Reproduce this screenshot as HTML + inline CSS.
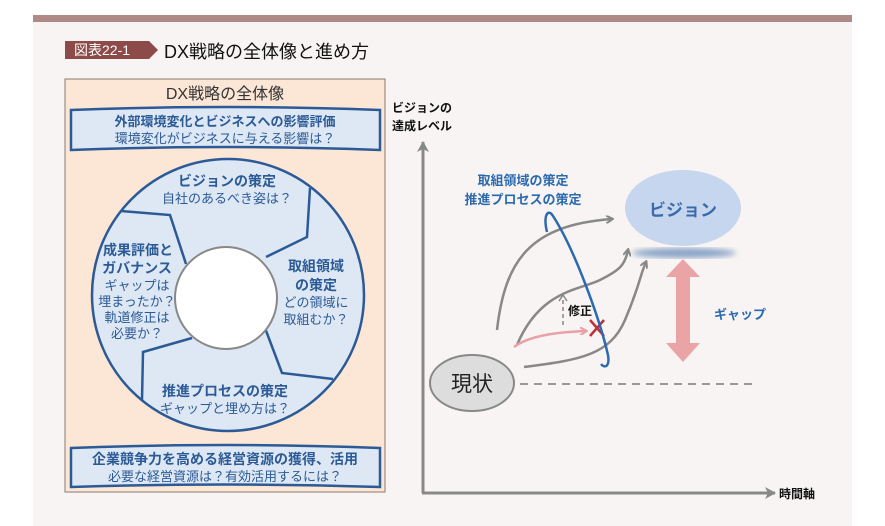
<!DOCTYPE html>
<html><head><meta charset="utf-8"><style>
body{margin:0;width:885px;height:526px;background:#fff;overflow:hidden;font-family:"Liberation Sans","Noto Sans CJK JP",sans-serif;}
</style></head><body>
<svg width="885" height="526" xmlns="http://www.w3.org/2000/svg" style="position:absolute;left:0;top:0;font-family:'Liberation Sans','Noto Sans CJK JP',sans-serif">
<defs>
<marker id="ag" markerWidth="8" markerHeight="8" refX="6" refY="4" orient="auto" markerUnits="userSpaceOnUse"><path d="M0,0 L7,4 L0,8" fill="none" stroke="#888" stroke-width="2"/></marker>
<marker id="ap" markerWidth="8" markerHeight="8" refX="6" refY="4" orient="auto" markerUnits="userSpaceOnUse"><path d="M0,0 L7,4 L0,8" fill="none" stroke="#eaa0a8" stroke-width="2"/></marker>
<marker id="ax" markerWidth="12" markerHeight="12" refX="10" refY="6" orient="auto" markerUnits="userSpaceOnUse"><path d="M0,0 L11,6 L0,12 L3,6z" fill="#888"/></marker>
<filter id="bl"><feGaussianBlur stdDeviation="3"/></filter>
</defs>
<rect x="33" y="22" width="819" height="504" fill="#f8f4f3"/>
<rect x="33" y="15" width="819" height="7" fill="#b08a84"/>
<path d="M65,41 H149 L158,50 L149,59 H65z" fill="#8c4a48"/>
<text x="74" y="55" font-size="14" fill="#fff">図表22-1</text>
<text x="164" y="58" font-size="18" fill="#111">DX戦略の全体像と進め方</text>
<!-- left panel -->
<rect x="65" y="79" width="320" height="413" fill="#fce6d6" stroke="#8a7a70" stroke-width="1"/>
<text x="225" y="99" font-size="16" fill="#333" text-anchor="middle">DX戦略の全体像</text>
<path d="M71,110 Q225,104 380,110 V150 Q225,144 71,150z" fill="#dde8f4" stroke="#2c5a96" stroke-width="2.5"/>
<text x="225" y="126" font-size="13" font-weight="bold" fill="#2c5a96" text-anchor="middle">外部環境変化とビジネスへの影響評価</text>
<text x="225" y="143" font-size="13" fill="#2c5a96" text-anchor="middle">環境変化がビジネスに与える影響は？</text>
<circle cx="228" cy="295" r="136" fill="#dde8f4" stroke="#2c5a96" stroke-width="2.5"/>
<g fill="none" stroke="#2c5a96" stroke-width="2.5">
<polyline points="266,257 307,237 310,188"/>
<polyline points="186,264 170,215 121,211"/>
<polyline points="192,338 143,352 142,400"/>
<polyline points="265,328 282,373 333,379"/>
</g>
<circle cx="226" cy="298" r="51" fill="#fff" stroke="#888" stroke-width="2"/>
<g fill="#2c5a96" text-anchor="middle" font-size="13">
<text x="227" y="186" font-weight="bold" font-size="14">ビジョンの策定</text>
<text x="227" y="203">自社のあるべき姿は？</text>
<text x="138" y="255" font-weight="bold" font-size="14">成果評価と</text>
<text x="137" y="273" font-weight="bold" font-size="14">ガバナンス</text>
<text x="137" y="290">ギャップは</text>
<text x="137" y="306">埋まったか？</text>
<text x="137" y="322">軌道修正は</text>
<text x="137" y="338">必要か？</text>
<text x="316" y="271" font-weight="bold" font-size="14">取組領域</text>
<text x="316" y="290" font-weight="bold" font-size="14">の策定</text>
<text x="316" y="307">どの領域に</text>
<text x="316" y="324">取組むか？</text>
<text x="225" y="396" font-weight="bold" font-size="14">推進プロセスの策定</text>
<text x="225" y="413">ギャップと埋め方は？</text>
</g>
<path d="M71,448 Q225,442 380,448 V487 Q225,482 71,487z" fill="#dde8f4" stroke="#2c5a96" stroke-width="2.5"/>
<text x="225" y="464" font-size="14" font-weight="bold" fill="#2c5a96" text-anchor="middle">企業競争力を高める経営資源の獲得、活用</text>
<text x="225" y="481" font-size="13" fill="#2c5a96" text-anchor="middle">必要な経営資源は？有効活用するには？</text>
<!-- right chart -->
<text x="392" y="112" font-size="12" font-weight="bold" fill="#111">ビジョンの</text>
<text x="392" y="130" font-size="12" font-weight="bold" fill="#111">達成レベル</text>
<line x1="423" y1="493" x2="423" y2="142" stroke="#888" stroke-width="3" marker-end="url(#ax)"/>
<line x1="422" y1="493" x2="775" y2="493" stroke="#888" stroke-width="3" marker-end="url(#ax)"/>
<text x="779" y="498" font-size="12" font-weight="bold" fill="#111">時間軸</text>
<ellipse cx="684" cy="253" rx="52" ry="5" fill="#8aa4c8" filter="url(#bl)"/>
<ellipse cx="683" cy="208" rx="58" ry="38" fill="#c6d6ee"/>
<text x="683" y="216" font-size="17" font-weight="bold" fill="#3a6aa8" text-anchor="middle">ビジョン</text>
<path d="M683,259 L700,277 H690 V343 H700 L683,362 L666,343 H676 V277 H666z" fill="#eaa4a6"/>
<text x="714" y="319" font-size="13" font-weight="bold" fill="#2c6ab0">ギャップ</text>
<line x1="520" y1="384" x2="755" y2="384" stroke="#999" stroke-width="2" stroke-dasharray="8,6"/>
<ellipse cx="472" cy="383" rx="42" ry="28" fill="#ddd" stroke="#888" stroke-width="2"/>
<text x="472" y="391" font-size="21" fill="#222" text-anchor="middle">現状</text>
<text x="523" y="185" font-size="13" font-weight="bold" fill="#2c6ab0" text-anchor="middle">取組領域の策定</text>
<text x="523" y="204" font-size="13" font-weight="bold" fill="#2c6ab0" text-anchor="middle">推進プロセスの策定</text>
<g fill="none" stroke="#888" stroke-width="2.5">
<path d="M497,330 C505,260 530,225 612,219" marker-end="url(#ag)"/>
<path d="M517,345 C540,290 580,290 600,280 S625,265 628,250" marker-end="url(#ag)"/>
<path d="M524,367 C580,360 610,355 625,320 S640,275 646,262" marker-end="url(#ag)"/>
</g>
<path d="M514,347 C530,335 560,332 586,331" fill="none" stroke="#eaa0a8" stroke-width="2.5" marker-end="url(#ap)"/>
<path d="M590,320 L604,336 M604,320 L590,336" stroke="#c0303a" stroke-width="2.5"/>
<line x1="563" y1="325" x2="563" y2="298" stroke="#888" stroke-width="1.5" stroke-dasharray="4,3"/>
<path d="M559,301 L563,295 L567,301" fill="none" stroke="#888" stroke-width="1.5"/>
<text x="568" y="315" font-size="12" font-weight="bold" fill="#111">修正</text>
<path d="M547,232 C543,215 548,208 553,216 C575,250 600,320 608,355 C610,368 604,368 601,364" fill="none" stroke="#2c6ab0" stroke-width="2.5"/>
</svg>
</body></html>
